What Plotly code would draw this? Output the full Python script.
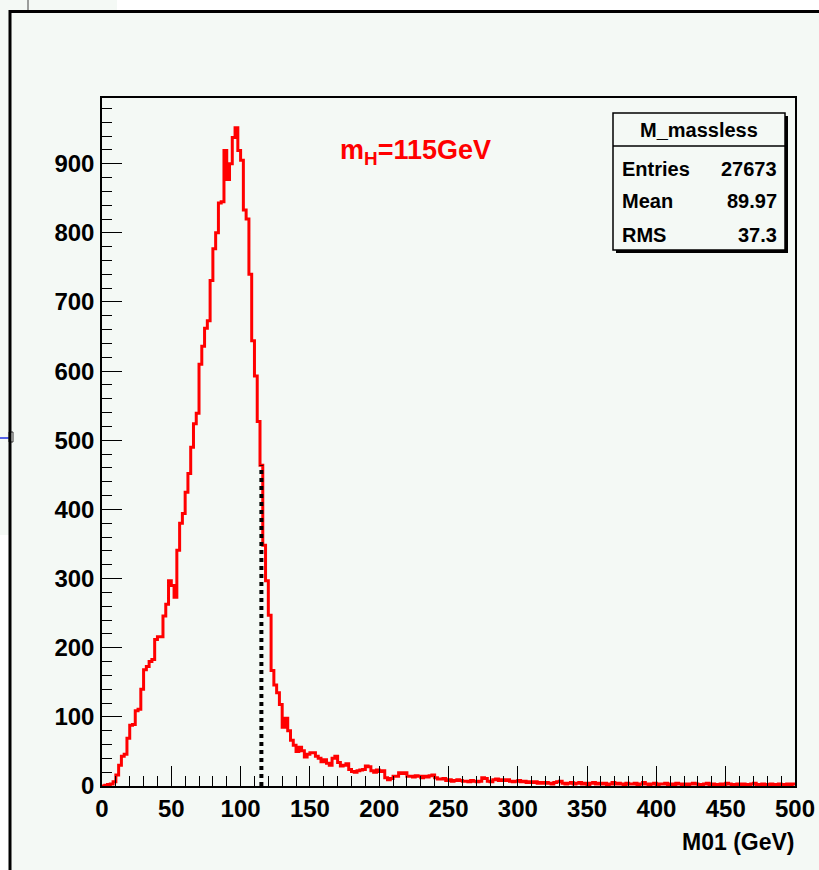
import numpy as np
import plotly.graph_objects as go

# Histogram of M01: 250 bins of 2 GeV between 0 and 500 GeV
x_min, x_max, n_bins = 0.0, 500.0, 250
counts = [
    0, 1, 2, 3, 6, 16, 30, 43, 46, 69,
    88, 89, 109, 111, 140, 168, 173, 180, 183, 212,
    216, 216, 246, 263, 297, 290, 273, 341, 380, 394,
    425, 452, 490, 524, 539, 610, 636, 662, 673, 731,
    777, 800, 843, 845, 919, 877, 900, 938, 952, 919,
    905, 833, 820, 740, 644, 593, 527, 464, 348, 297,
    247, 167, 146, 135, 118, 85, 98, 80, 66, 59,
    50, 56, 51, 42, 46, 48, 48, 43, 40, 35,
    38, 33, 30, 40, 43, 34, 29, 30, 32, 24,
    21, 20, 22, 23, 24, 29, 28, 22, 20, 23,
    21, 22, 12, 9, 11, 14, 14, 19, 18, 19,
    14, 14, 13, 15, 14, 12, 14, 13, 15, 16,
    12, 10, 10, 11, 8, 9, 7, 8, 9, 8,
    7, 7, 6, 8, 7, 6, 7, 12, 11, 7,
    6, 9, 10, 8, 9, 8, 9, 7, 6, 7,
    8, 6, 7, 5, 6, 5, 6, 4, 5, 4,
    5, 4, 3, 5, 6, 7, 4, 3, 4, 5,
    3, 4, 5, 3, 4, 2, 4, 5, 3, 4,
    3, 4, 2, 3, 5, 3, 4, 3, 2, 4,
    3, 3, 4, 2, 3, 5, 3, 2, 3, 4,
    2, 3, 3, 4, 2, 3, 2, 4, 3, 2,
    3, 2, 3, 4, 3, 2, 2, 3, 4, 2,
    3, 2, 2, 3, 2, 4, 3, 2, 2, 3,
    2, 3, 2, 2, 3, 4, 2, 2, 3, 2,
    2, 3, 2, 2, 3, 2, 2, 3, 2, 3,
]

higgs_mass = 115.0
hist_name = "M_massless"
stat_labels = ["Entries", "Mean", "RMS"]
stat_values = ["27673", "89.97", "37.3"]
x_title = "M01 (GeV)"
mass_label = "m<sub>H</sub>=115GeV"

y_range = [0, 995]

edges = np.linspace(x_min, x_max, n_bins + 1)
step_y = list(counts) + [counts[-1]]
bin_w = (x_max - x_min) / n_bins
mh_height = counts[int((higgs_mass - x_min) // bin_w)]

W, H = 819, 870
ML, MR, MT, MB = 102, 24, 98, 84
PW, PH = W - ML - MR, H - MT - MB

def fx(px):
    return (px - ML) / PW

def fy(py):
    return (H - MB - py) / PH

CANVAS = "#f4f9f5"
FONT = "Liberation Sans, Arial, sans-serif"

fig = go.Figure()

fig.add_trace(go.Scatter(
    x=edges, y=step_y, mode="lines", line_shape="hv",
    line=dict(color="#ff0000", width=3), hoverinfo="skip", showlegend=False,
))

fig.add_trace(go.Scatter(
    x=[higgs_mass, higgs_mass], y=[0, mh_height], mode="lines",
    line=dict(color="black", width=4, dash="4px,4px"),
    hoverinfo="skip", showlegend=False,
))

shapes = [
    # surrounding window pieces
    dict(type="rect", xref="paper", yref="paper", x0=fx(0), x1=fx(117), y0=fy(0), y1=fy(12),
         fillcolor=CANVAS, line_width=0, layer="below"),
    dict(type="rect", xref="paper", yref="paper", x0=fx(0), x1=fx(12), y0=fy(0), y1=fy(535),
         fillcolor=CANVAS, line_width=0, layer="below"),
    dict(type="rect", xref="paper", yref="paper", x0=fx(10), x1=fx(W), y0=fy(10), y1=fy(H),
         fillcolor=CANVAS, line_width=0, layer="below"),
    dict(type="line", xref="paper", yref="paper", x0=fx(28), x1=fx(28), y0=fy(0), y1=fy(10),
         line=dict(color="#444444", width=1)),
    dict(type="line", xref="paper", yref="paper", x0=fx(0), x1=fx(11), y0=fy(438), y1=fy(438),
         line=dict(color="#2030e0", width=1.5)),
    dict(type="rect", xref="paper", yref="paper", x0=fx(9), x1=fx(13), y0=fy(432), y1=fy(442),
         line=dict(color="#333333", width=1), fillcolor="rgba(0,0,0,0)"),
    # canvas border
    dict(type="line", xref="paper", yref="paper", x0=fx(9), x1=fx(W), y0=fy(11.5), y1=fy(11.5),
         line=dict(color="black", width=3)),
    dict(type="line", xref="paper", yref="paper", x0=fx(10), x1=fx(10), y0=fy(10), y1=fy(H),
         line=dict(color="black", width=3)),
    # statistics box: shadow, box, header separator
    dict(type="rect", xref="paper", yref="paper", x0=fx(616), x1=fx(788), y0=fy(116), y1=fy(253),
         fillcolor="black", line_width=0),
    dict(type="rect", xref="paper", yref="paper", x0=fx(613), x1=fx(785), y0=fy(113), y1=fy(250),
         fillcolor=CANVAS, line=dict(color="black", width=1.5)),
    dict(type="line", xref="paper", yref="paper", x0=fx(613), x1=fx(785), y0=fy(146), y1=fy(146),
         line=dict(color="black", width=1.5)),
]

annotations = [
    dict(xref="paper", yref="paper", x=fx(699), y=fy(130), text=hist_name,
         showarrow=False, xanchor="center", yanchor="middle",
         font=dict(family=FONT, size=20, color="black", weight="bold")),
    dict(xref="paper", yref="paper", x=fx(415), y=fy(152), text=mass_label,
         showarrow=False, xanchor="center", yanchor="middle",
         font=dict(family=FONT, size=27, color="#ff0000", weight="bold")),
    dict(xref="paper", yref="paper", x=fx(796), y=fy(842), text=x_title,
         showarrow=False, xanchor="right", yanchor="middle",
         font=dict(family=FONT, size=23, color="black", weight="bold")),
]
for i, (lab, val) in enumerate(zip(stat_labels, stat_values)):
    yy = [169, 201, 235][i]
    annotations.append(dict(xref="paper", yref="paper", x=fx(620), y=fy(yy), text=lab,
                            showarrow=False, xanchor="left", yanchor="middle",
                            font=dict(family=FONT, size=20, color="black", weight="bold")))
    annotations.append(dict(xref="paper", yref="paper", x=fx(779), y=fy(yy), text=val,
                            showarrow=False, xanchor="right", yanchor="middle",
                            font=dict(family=FONT, size=20, color="black", weight="bold")))

tick_font = dict(family=FONT, size=24, color="black", weight="bold")

fig.update_layout(
    width=W, height=H,
    autosize=False,
    margin=dict(l=ML, r=MR, t=MT, b=MB, pad=0, autoexpand=False),
    paper_bgcolor="white",
    plot_bgcolor=CANVAS,
    shapes=shapes,
    annotations=annotations,
    xaxis=dict(
        range=[x_min, x_max], dtick=50, tick0=0,
        ticks="inside", ticklen=20, tickwidth=1, tickcolor="black",
        minor=dict(dtick=10, ticks="inside", ticklen=10, tickwidth=1, tickcolor="black"),
        showline=True, linecolor="black", linewidth=1.5, mirror=True,
        showgrid=False, zeroline=False, tickfont=tick_font, automargin=False,
    ),
    yaxis=dict(
        range=y_range, dtick=100, tick0=0,
        ticks="inside", ticklen=20, tickwidth=1, tickcolor="black",
        minor=dict(dtick=20, ticks="inside", ticklen=10, tickwidth=1, tickcolor="black"),
        showline=True, linecolor="black", linewidth=1.5, mirror=True,
        showgrid=False, zeroline=False, tickfont=tick_font, automargin=False,
        ticklabelstandoff=1,
    ),
)

fig.write_html(
    "out.html",
    config={"responsive": False, "displayModeBar": False},
    post_script="document.documentElement.style.overflow='hidden';"
                "document.body.style.margin='0';document.body.style.overflow='hidden';",
)
